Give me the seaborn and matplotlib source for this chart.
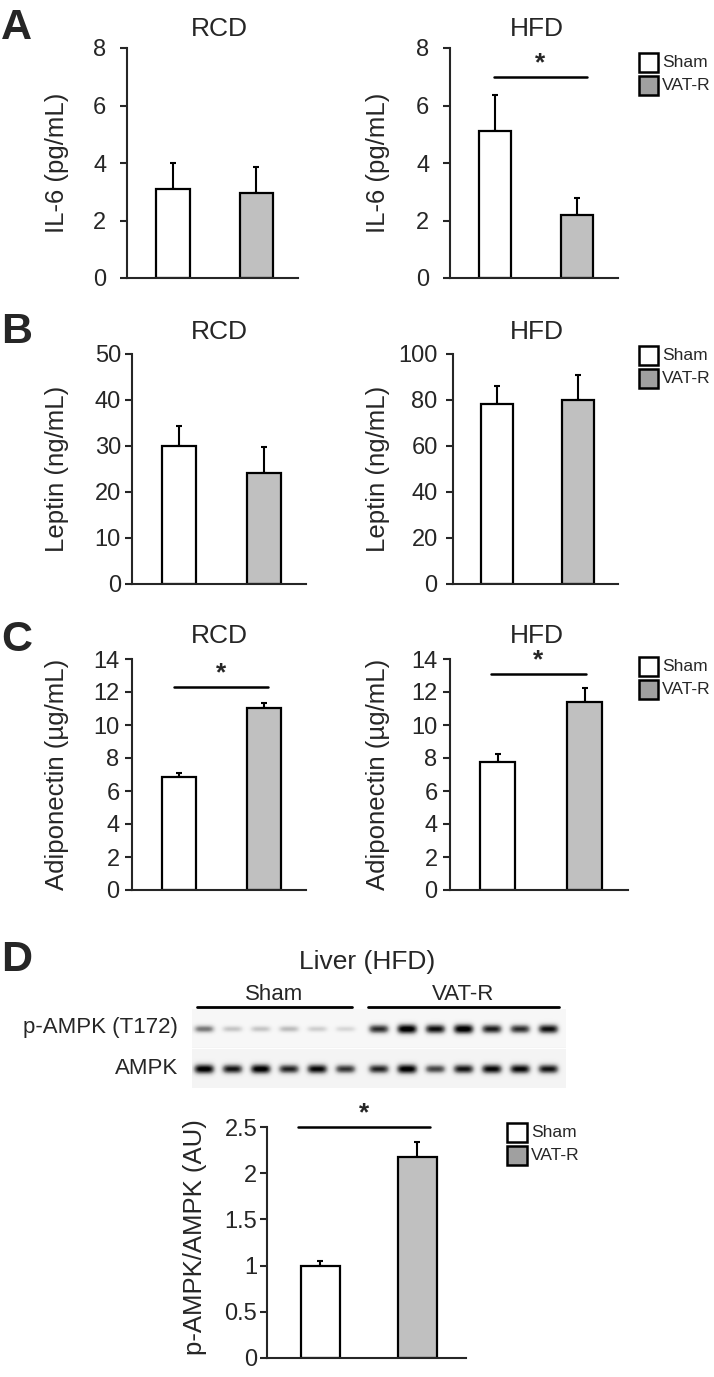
import numpy as np
import matplotlib
matplotlib.use("Agg")
import matplotlib.pyplot as plt
from matplotlib.patches import Rectangle
from matplotlib.lines import Line2D
import seaborn as sns

# ---- data ----
groups = ["Sham", "VAT-R"]

il6_rcd_mean = [3.10, 2.97]
il6_rcd_sem = [0.90, 0.88]
il6_hfd_mean = [5.12, 2.19]
il6_hfd_sem = [1.26, 0.61]

leptin_rcd_mean = [30.1, 24.2]
leptin_rcd_sem = [4.3, 5.5]
leptin_hfd_mean = [78.1, 79.8]
leptin_hfd_sem = [8.0, 11.1]

adipo_rcd_mean = [6.87, 11.01]
adipo_rcd_sem = [0.24, 0.30]
adipo_hfd_mean = [7.78, 11.38]
adipo_hfd_sem = [0.46, 0.84]

ampk_ratio_mean = [1.00, 2.18]
ampk_ratio_sem = [0.05, 0.16]

# western blot lanes (relative band darkness, 0-1)
lane_groups = ["Sham"] * 6 + ["VAT-R"] * 7
pampk_bands = [0.55, 0.28, 0.28, 0.32, 0.24, 0.20, 0.80, 1.00, 0.90, 1.00, 0.85, 0.80, 0.90]
ampk_bands = [0.95, 0.85, 0.95, 0.80, 0.90, 0.75, 0.80, 0.95, 0.70, 0.85, 0.90, 0.90, 0.85]

# ---- style ----
sns.set_style("ticks")
plt.rcParams["font.family"] = ["Liberation Sans", "DejaVu Sans"]
plt.rcParams["axes.linewidth"] = 1.5

W, H = 714, 1377
fig = plt.figure(figsize=(W / 100, H / 100), dpi=100)

bar_colors = ["#ffffff", "#c0c0c0"]
legend_colors = ["#ffffff", "#a0a0a0"]


def fx(x):
    return x / W


def fy(y):
    return 1 - y / H


def axes_px(left, top, right, bottom):
    return fig.add_axes([fx(left), fy(bottom), (right - left) / W, (bottom - top) / H])


def bar_panel(ax, means, sems, ymax, ystep, sig=None, pad=3):
    sns.barplot(x=groups, y=means, hue=groups, palette=bar_colors, edgecolor="black",
                linewidth=1.6, width=0.4, legend=False, errorbar=None, ax=ax, zorder=2)
    ax.errorbar([0, 1], means, yerr=[[0, 0], sems], fmt="none", ecolor="black",
                elinewidth=1.5, capsize=2.5, capthick=1.5, zorder=1)
    ax.set_xlim(-0.55, 1.5)
    ax.set_ylim(0, ymax)
    ticks = np.arange(0, ymax + ystep / 2, ystep)
    ax.set_yticks(ticks)
    ax.set_yticklabels([f"{t:g}" for t in ticks])
    ax.set_xticks([])
    ax.set_xlabel("")
    ax.set_ylabel("")
    ax.tick_params(axis="y", labelsize=17, length=5, width=1.5, pad=pad)
    sns.despine(ax=ax)
    if sig is not None:
        x0, x1, y = sig
        ax.plot([x0, x1], [y, y], color="black", lw=1.8, clip_on=False)
        ax.annotate("*", ((x0 + x1) / 2, y), xytext=(0, 1), textcoords="offset points",
                    ha="center", va="bottom", fontsize=19, fontweight="bold",
                    annotation_clip=False)


def legend_px(x, y, w=19, h=19, gap=4):
    for k, (lab, col) in enumerate(zip(groups, legend_colors)):
        top = y + k * (h + gap)
        fig.add_artist(Rectangle((fx(x), fy(top + h)), w / W, h / H, transform=fig.transFigure,
                                 facecolor=col, edgecolor="black", lw=1.8))
        fig.text(fx(x + w + 4), fy(top + h / 2), lab, ha="left", va="center", fontsize=12.5)


def panel_text(x, y, s, **kw):
    fig.text(fx(x), fy(y), s, **kw)


# ---- A: IL-6 ----
ax = axes_px(127, 48, 298, 278)
bar_panel(ax, il6_rcd_mean, il6_rcd_sem, 8, 2, pad=10)
ax = axes_px(450, 48, 618, 278)
bar_panel(ax, il6_hfd_mean, il6_hfd_sem, 8, 2, sig=(-0.01, 1.12, 7.0), pad=10)
panel_text(57, 163, "IL-6 (pg/mL)", rotation=90, ha="center", va="center", fontsize=18.5)
panel_text(378, 163, "IL-6 (pg/mL)", rotation=90, ha="center", va="center", fontsize=18.5)
panel_text(219, 29, "RCD", ha="center", va="center", fontsize=19)
panel_text(537, 29, "HFD", ha="center", va="center", fontsize=19)
panel_text(1, 8, "A", ha="left", va="top", fontsize=31, fontweight="bold")
legend_px(639, 53)

# ---- B: Leptin ----
ax = axes_px(132, 354, 306, 584)
bar_panel(ax, leptin_rcd_mean, leptin_rcd_sem, 50, 10, pad=3)
ax = axes_px(453, 354, 618, 584)
bar_panel(ax, leptin_hfd_mean, leptin_hfd_sem, 100, 20, pad=6)
panel_text(57, 469, "Leptin (ng/mL)", rotation=90, ha="center", va="center", fontsize=18.5)
panel_text(378, 469, "Leptin (ng/mL)", rotation=90, ha="center", va="center", fontsize=18.5)
panel_text(219, 332, "RCD", ha="center", va="center", fontsize=19)
panel_text(537, 332, "HFD", ha="center", va="center", fontsize=19)
panel_text(1, 312, "B", ha="left", va="top", fontsize=31, fontweight="bold")
legend_px(639, 346)

# ---- C: Adiponectin ----
ax = axes_px(132, 659, 306, 890)
bar_panel(ax, adipo_rcd_mean, adipo_rcd_sem, 14, 2, sig=(-0.06, 1.05, 12.3), pad=4)
ax = axes_px(450, 659, 628, 890)
bar_panel(ax, adipo_hfd_mean, adipo_hfd_sem, 14, 2, sig=(-0.08, 1.02, 13.1), pad=4)
panel_text(57, 774, "Adiponectin (\u00b5g/mL)", rotation=90, ha="center", va="center", fontsize=18.5)
panel_text(378, 774, "Adiponectin (\u00b5g/mL)", rotation=90, ha="center", va="center", fontsize=18.5)
panel_text(219, 636, "RCD", ha="center", va="center", fontsize=19)
panel_text(537, 636, "HFD", ha="center", va="center", fontsize=19)
panel_text(1, 620, "C", ha="left", va="top", fontsize=31, fontweight="bold")
legend_px(639, 657)

# ---- D: blot ----
panel_text(1, 940, "D", ha="left", va="top", fontsize=31, fontweight="bold")
panel_text(367, 962, "Liver (HFD)", ha="center", va="center", fontsize=19)
panel_text(274, 994, "Sham", ha="center", va="center", fontsize=16)
panel_text(463, 994, "VAT-R", ha="center", va="center", fontsize=16)
for x0, x1 in [(197, 352), (368, 559)]:
    fig.add_artist(Line2D([fx(x0), fx(x1)], [fy(1007), fy(1007)], transform=fig.transFigure,
                          color="black", lw=2))
panel_text(178, 1028, "p-AMPK (T172)", ha="right", va="center", fontsize=16)
panel_text(178, 1068, "AMPK", ha="right", va="center", fontsize=16)

lane_pos = np.arange(len(lane_groups)) + np.array([0.18 if g == "VAT-R" else 0.0 for g in lane_groups])
bax = axes_px(192, 1009, 566, 1088)
x0, x1 = -0.42, lane_pos[-1] + 0.61
xs = np.linspace(x0, x1, 500)
ys = np.arange(0, 79) + 0.5
X, Y = np.meshgrid(xs, ys)
img = np.where(Y < 38.5, 0.06, 0.09)
for strip_y, bands in [(20.0, pampk_bands), (60.0, ampk_bands)]:
    for lp, amp in zip(lane_pos, bands):
        thick = 2.5 + 2.5 * amp
        img = img + amp * np.exp(-(np.abs(X - lp) / 0.36) ** 4) * np.exp(-((Y - strip_y) / thick) ** 2)
img[(Y > 38.5) & (Y < 39.8)] = 0.0
bax.imshow(np.clip(img, 0, 1), cmap="Greys", vmin=0, vmax=1, aspect="auto",
           extent=[x0, x1, 79, 0], interpolation="bilinear")
bax.set_xlim(x0, x1)
bax.set_ylim(79, 0)
bax.axis("off")

# ---- D: quantification ----
ax = axes_px(267, 1127, 466, 1358)
bar_panel(ax, ampk_ratio_mean, ampk_ratio_sem, 2.5, 0.5, sig=(-0.23, 1.13, 2.5), pad=2)
panel_text(195, 1237, "p-AMPK/AMPK (AU)", rotation=90, ha="center", va="center", fontsize=18.5)
legend_px(507, 1123, w=20, h=19, gap=4)

fig.savefig("out.png", dpi=100)
